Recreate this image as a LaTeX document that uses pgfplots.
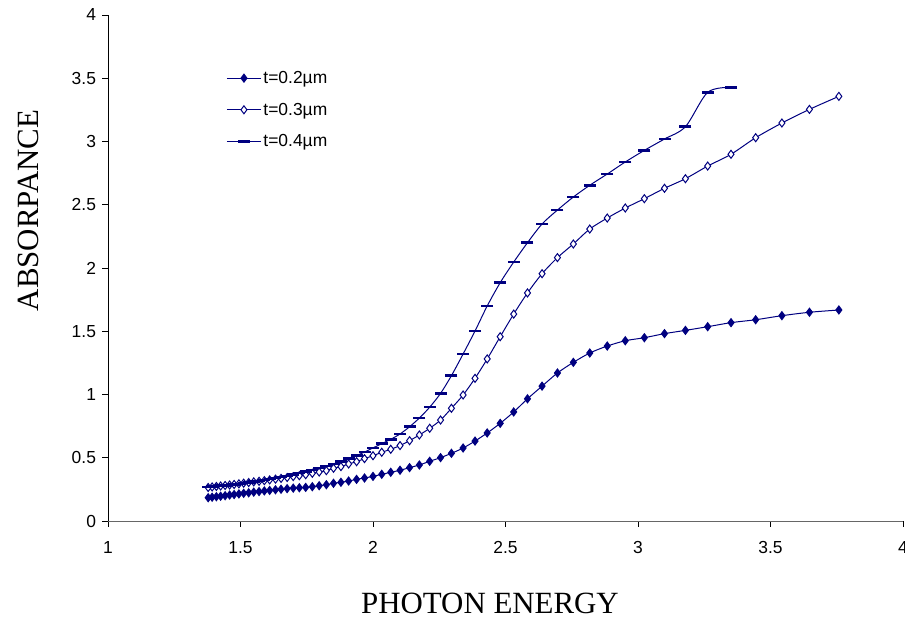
\documentclass[border=0pt]{standalone}
\usepackage{fontspec}
\setmainfont{Liberation Sans}
\newfontfamily\serifrm{Liberation Serif}
\usepackage{pgfplots}
\usepackage{pgfplotstable}
\pgfplotsset{compat=1.18}
\definecolor{navy}{RGB}{0,0,128}

% wavelength (nm), photon energy (eV), absorbance for t = 0.2, 0.3, 0.4 um
\pgfplotstableread{
lam E A2 A3 A4
330 3.758 1.668 3.357 nan
340 3.647 1.650 3.254 nan
350 3.543 1.623 3.146 nan
360 3.444 1.591 3.030 nan
370 3.351 1.568 2.899 3.428
380 3.263 1.536 2.806 3.389
390 3.179 1.507 2.706 3.117
400 3.100 1.481 2.630 3.020
410 3.024 1.449 2.548 2.930
420 2.952 1.425 2.474 2.838
430 2.884 1.383 2.395 2.743
440 2.818 1.328 2.308 2.654
450 2.756 1.254 2.190 2.561
460 2.696 1.170 2.082 2.458
470 2.638 1.066 1.955 2.348
480 2.583 0.966 1.803 2.200
490 2.531 0.862 1.636 2.047
500 2.480 0.772 1.457 1.884
510 2.431 0.696 1.281 1.700
520 2.385 0.632 1.128 1.502
530 2.340 0.577 0.996 1.320
540 2.296 0.535 0.891 1.149
550 2.255 0.501 0.798 1.009
560 2.214 0.472 0.733 0.900
570 2.175 0.443 0.680 0.814
580 2.138 0.422 0.635 0.745
590 2.102 0.401 0.596 0.688
600 2.067 0.385 0.567 0.646
610 2.033 0.369 0.543 0.611
620 2.000 0.353 0.516 0.578
630 1.968 0.340 0.493 0.545
640 1.938 0.329 0.469 0.518
650 1.908 0.316 0.451 0.496
660 1.879 0.306 0.430 0.472
670 1.851 0.298 0.417 0.452
680 1.824 0.287 0.398 0.435
690 1.797 0.279 0.387 0.418
700 1.771 0.271 0.377 0.403
710 1.746 0.266 0.366 0.390
720 1.722 0.263 0.358 0.378
730 1.699 0.260 0.351 0.367
740 1.676 0.256 0.344 0.357
750 1.653 0.251 0.337 0.348
760 1.632 0.247 0.331 0.339
770 1.610 0.242 0.325 0.331
780 1.590 0.238 0.319 0.323
790 1.570 0.233 0.314 0.316
800 1.550 0.228 0.309 0.310
810 1.531 0.223 0.304 0.304
820 1.512 0.219 0.299 0.299
830 1.494 0.214 0.294 0.294
840 1.476 0.209 0.289 0.290
850 1.459 0.205 0.285 0.286
860 1.442 0.200 0.281 0.282
870 1.425 0.196 0.277 0.279
880 1.409 0.192 0.273 0.276
890 1.393 0.188 0.269 0.273
900 1.378 0.184 0.265 0.270
}\absdata

\begin{document}
\begin{tikzpicture}
\path[use as bounding box] (-108bp,-100bp) rectangle (797bp,521bp);
\begin{axis}[
    scale only axis,
    width=795bp, height=506bp,
    xmin=1, xmax=4, ymin=0, ymax=4,
    xtick={1,1.5,2,2.5,3,3.5,4},
    ytick={0,0.5,1,1.5,2,2.5,3,3.5,4},
    axis x line*=bottom, axis y line*=left,
    x axis line style={gray!80!black},
    y axis line style={black},
    tick align=outside,
    major tick length=5.5bp,
    tick style={black, line width=0.6bp},
    /pgf/number format/assume math mode=true,
    ticklabel style={font=\fontsize{17.5}{20}\selectfont},
    xticklabel style={yshift=-11bp},
    yticklabel style={xshift=-3bp},
    xlabel={\serifrm PHOTON ENERGY},
    ylabel={\serifrm ABSORPANCE},
    every axis x label/.style={at={(axis description cs:0.4805,-0.162)}, anchor=center, font=\fontsize{31}{36}\selectfont},
    every axis y label/.style={at={(axis description cs:-0.1006,0.6136)}, anchor=center, rotate=90, font=\fontsize{31}{36}\selectfont},
    legend style={at={(axis description cs:0.145,0.897)}, anchor=north west,
        draw=none, fill=none, font=\fontsize{17.5}{20}\selectfont, row sep=14bp},
    legend cell align=left,
    legend image code/.code={\draw[mark repeat=2,mark phase=2] plot coordinates {(0bp,0bp) (17bp,0bp) (34bp,0bp)};},
]
\addplot[navy, line width=1bp, smooth, mark=diamond*, mark size=4bp,
    mark options={solid, fill=navy}] table[x=E, y=A2] {\absdata};
\addlegendentry{t=0.2µm}
\addplot[navy, line width=1bp, smooth, mark=diamond*, mark size=4bp,
    mark options={solid, fill=white, line width=1bp}] table[x=E, y=A3] {\absdata};
\addlegendentry{t=0.3µm}
\addplot[navy, line width=1bp, smooth, mark=-, mark size=6bp,
    mark options={solid, line width=2.6bp}] table[x=E, y=A4] {\absdata};
\addlegendentry{t=0.4µm}
\end{axis}
\end{tikzpicture}
\end{document}
